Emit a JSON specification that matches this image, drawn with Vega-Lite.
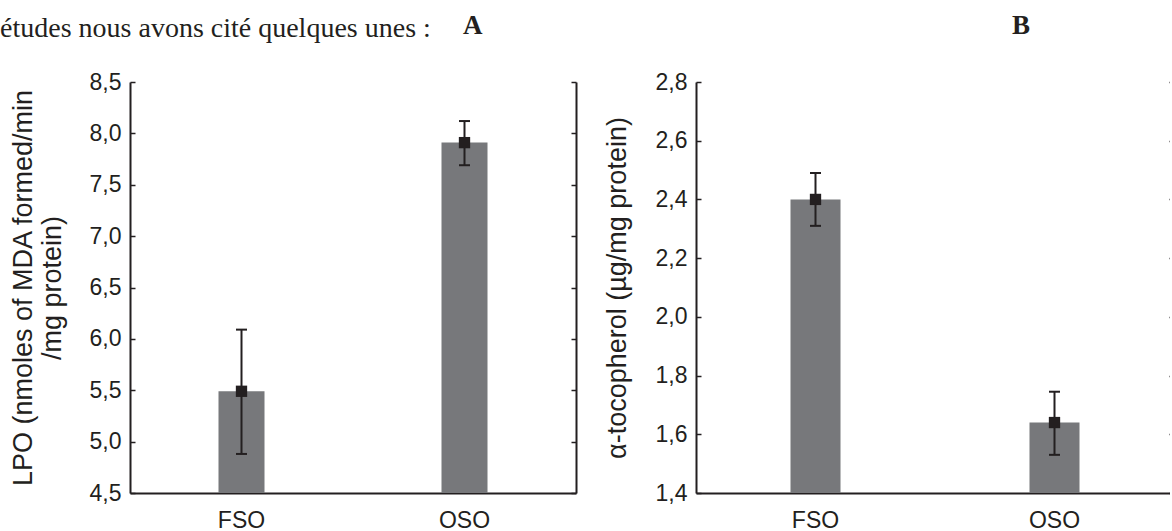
{
  "$schema": "https://vega.github.io/schema/vega-lite/v6.json",
  "padding": {"left": 0, "top": 12, "right": -5, "bottom": -4},
  "background": "white",
  "config": {
    "view": {"stroke": null},
    "font": "Liberation Sans",
    "axis": {
      "grid": false,
      "domainColor": "#231f20",
      "domainWidth": 2,
      "tickColor": "#231f20",
      "tickWidth": 1.5,
      "tickSize": -5,
      "labelColor": "#231f20",
      "titleColor": "#231f20",
      "labelFont": "Liberation Sans",
      "titleFont": "Liberation Sans",
      "labelFontSize": 23,
      "titleFontSize": 27,
      "titleFontWeight": "normal",
      "zindex": 1
    }
  },
  "title": {
    "text": "études nous avons cité quelques unes :",
    "anchor": "start",
    "frame": "bounds",
    "font": "Liberation Serif",
    "fontSize": 28,
    "fontWeight": "normal",
    "color": "#231f20",
    "baseline": "alphabetic",
    "offset": -53,
    "dx": -9
  },
  "datasets": {
    "lpo": [
      {"group": "FSO", "mean": 5.49, "lo": 4.88, "hi": 6.09},
      {"group": "OSO", "mean": 7.91, "lo": 7.69, "hi": 8.12}
    ],
    "toco": [
      {"group": "FSO", "mean": 2.40, "lo": 2.31, "hi": 2.49},
      {"group": "OSO", "mean": 1.64, "lo": 1.53, "hi": 1.745}
    ]
  },
  "spacing": 26,
  "hconcat": [
    {
      "width": 446,
      "height": 411,
      "title": {"text": "A", "anchor": "start", "frame": "group", "dx": 333, "font": "Liberation Serif", "fontWeight": "bold", "fontSize": 27, "color": "#231f20", "baseline": "alphabetic", "offset": 10},
      "data": {"name": "lpo"},
      "encoding": {
        "x": {"field": "group", "type": "nominal", "sort": ["FSO", "OSO"],
          "scale": {"paddingInner": 0, "paddingOuter": 0},
          "axis": {"orient": "bottom", "title": null, "labelAngle": 0, "labelPadding": 21, "labelBaseline": "top"}}
      },
      "layer": [
        {"mark": {"type": "bar", "color": "#77787b", "width": 46},
          "encoding": {"y": {"field": "mean", "type": "quantitative",
            "scale": {"domain": [4.5, 8.5], "zero": false, "nice": false},
            "axis": {"orient": "left", "values": [4.5, 5, 5.5, 6, 6.5, 7, 7.5, 8, 8.5],
              "labelExpr": "replace(format(datum.value, '.1f'), '.', ',')",
              "title": ["LPO (nmoles of MDA formed/min", "/mg protein)"],
              "titleLineHeight": 29,
              "labelPadding": 14, "titlePadding": 23}},
            "y2": {"datum": 4.5}}},
        {"mark": {"type": "rule", "color": "#231f20", "strokeWidth": 2},
          "encoding": {"y": {"field": "lo", "type": "quantitative", "scale": {"domain": [4.5, 8.5], "zero": false, "nice": false}, "axis": null},
            "y2": {"field": "hi"}}},
        {"mark": {"type": "tick", "orient": "horizontal", "color": "#231f20", "size": 11, "thickness": 2, "opacity": 1},
          "encoding": {"y": {"field": "lo", "type": "quantitative", "scale": {"domain": [4.5, 8.5], "zero": false, "nice": false}, "axis": null}}},
        {"mark": {"type": "tick", "orient": "horizontal", "color": "#231f20", "size": 11, "thickness": 2, "opacity": 1},
          "encoding": {"y": {"field": "hi", "type": "quantitative", "scale": {"domain": [4.5, 8.5], "zero": false, "nice": false}, "axis": null}}},
        {"mark": {"type": "point", "shape": "square", "filled": true, "size": 128, "color": "#231f20", "opacity": 1},
          "encoding": {"y": {"field": "mean", "type": "quantitative", "scale": {"domain": [4.5, 8.5], "zero": false, "nice": false},
            "axis": {"orient": "right", "labels": false, "title": null, "values": [4.5, 5, 5.5, 6, 6.5, 7, 7.5, 8, 8.5]}}}}
      ],
      "resolve": {"axis": {"y": "independent"}}
    },
    {
      "width": 478,
      "height": 411,
      "title": {"text": "B", "anchor": "start", "frame": "group", "dx": 316, "font": "Liberation Serif", "fontWeight": "bold", "fontSize": 27, "color": "#231f20", "baseline": "alphabetic", "offset": 10},
      "data": {"name": "toco"},
      "encoding": {
        "x": {"field": "group", "type": "nominal", "sort": ["FSO", "OSO"],
          "scale": {"paddingInner": 0, "paddingOuter": 0},
          "axis": {"orient": "bottom", "title": null, "labelAngle": 0, "labelPadding": 21, "labelBaseline": "top"}}
      },
      "layer": [
        {"mark": {"type": "bar", "color": "#77787b", "width": 50},
          "encoding": {"y": {"field": "mean", "type": "quantitative",
            "scale": {"domain": [1.4, 2.8], "zero": false, "nice": false},
            "axis": {"orient": "left", "values": [1.4, 1.6, 1.8, 2.0, 2.2, 2.4, 2.6, 2.8],
              "labelExpr": "replace(format(datum.value, '.1f'), '.', ',')",
              "title": "α-tocopherol (µg/mg protein)",
              "labelPadding": 14, "titlePadding": 24}},
            "y2": {"datum": 1.4}}},
        {"mark": {"type": "rule", "color": "#231f20", "strokeWidth": 2},
          "encoding": {"y": {"field": "lo", "type": "quantitative", "scale": {"domain": [1.4, 2.8], "zero": false, "nice": false}, "axis": null},
            "y2": {"field": "hi"}}},
        {"mark": {"type": "tick", "orient": "horizontal", "color": "#231f20", "size": 11, "thickness": 2, "opacity": 1},
          "encoding": {"y": {"field": "lo", "type": "quantitative", "scale": {"domain": [1.4, 2.8], "zero": false, "nice": false}, "axis": null}}},
        {"mark": {"type": "tick", "orient": "horizontal", "color": "#231f20", "size": 11, "thickness": 2, "opacity": 1},
          "encoding": {"y": {"field": "hi", "type": "quantitative", "scale": {"domain": [1.4, 2.8], "zero": false, "nice": false}, "axis": null}}},
        {"mark": {"type": "point", "shape": "square", "filled": true, "size": 128, "color": "#231f20", "opacity": 1},
          "encoding": {"y": {"field": "mean", "type": "quantitative", "scale": {"domain": [1.4, 2.8], "zero": false, "nice": false},
            "axis": {"orient": "right", "labels": false, "title": null, "values": [1.4, 1.6, 1.8, 2.0, 2.2, 2.4, 2.6, 2.8]}}}}
      ],
      "resolve": {"axis": {"y": "independent"}}
    }
  ]
}
